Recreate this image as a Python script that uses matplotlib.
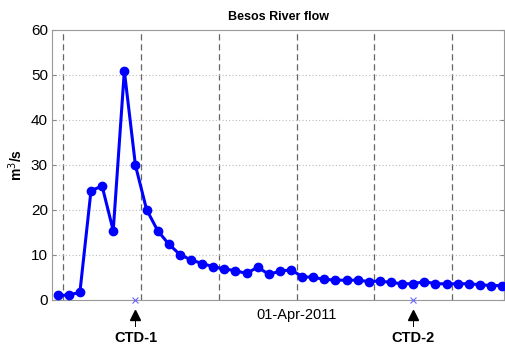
import numpy as np
import pandas as pd
import matplotlib
matplotlib.use("Agg")
import matplotlib.pyplot as plt

plt.rcParams['font.family'] = ['Liberation Sans', 'DejaVu Sans']

# daily flow (m3/s), daily values at noon from 10-Mar-2011
start = '2011-03-10 12:00'
flow = [1.0, 1.1, 1.7, 24.3, 25.3, 15.4, 50.9, 29.9, 20.1, 15.4,
        12.4, 10.1, 8.9, 8.1, 7.4, 6.9, 6.5, 5.9, 7.3, 5.7,
        6.4, 6.7, 5.2, 5.0, 4.6, 4.4, 4.4, 4.4, 4.1, 4.2,
        3.9, 3.6, 3.6, 4.1, 3.6, 3.6, 3.6, 3.6, 3.4, 3.2, 3.2]
dates = pd.date_range(start, periods=len(flow), freq='D')

ctd_labels = ['CTD-1', 'CTD-2']
ctd_dates = pd.to_datetime(['2011-03-17 12:00', '2011-04-11 12:00'])

grid_dates = pd.to_datetime(['2011-03-11', '2011-03-18', '2011-03-25',
                             '2011-04-01', '2011-04-08', '2011-04-15'])
tick_labels = ['', '', '', '01-Apr-2011', '', '']

fig = plt.figure(figsize=(5.06, 3.48), dpi=100)
ax = fig.add_axes([0.103, 0.138, 0.893, 0.776])

ax.plot(dates, flow, '-o', color='#0000ff', lw=2.2, ms=6, zorder=3)
ax.plot(ctd_dates, [0, 0], 'x', color='#6666ff', ms=4, mew=0.8, zorder=4,
        clip_on=False)

ax.set_xlim(pd.Timestamp('2011-03-10 00:00'), pd.Timestamp('2011-04-19 16:00'))
ax.set_ylim(0, 60)
ax.set_yticks(np.arange(0, 61, 10))
ax.set_xticks(grid_dates)
ax.set_xticklabels(tick_labels)

ax.yaxis.grid(True, linestyle=(0, (1, 2)), color='#bbbbbb', lw=0.8)
for d in grid_dates:
    ax.axvline(d, color='#666666', lw=0.9, ls=(0, (5, 3)), zorder=1)

for s in ax.spines.values():
    s.set_color('#999999')
ax.tick_params(axis='y', direction='in', length=3, right=True, color='#888888',
               labelsize=11, pad=3)
ax.tick_params(axis='x', length=0, labelsize=10.5, pad=6)

ax.set_title('Besos River flow', fontsize=9, fontweight='bold', pad=7)
ax.set_ylabel('m$^3$/s', fontsize=10, fontweight='bold', labelpad=4)

for lab, d in zip(ctd_labels, ctd_dates):
    ax.plot([d, d], [-4.0, -5.7], color='black', lw=0.7, clip_on=False)
    ax.plot([d], [-3.3], marker='^', color='black', ms=7, clip_on=False)
    ax.text(d, -8.4, lab, ha='center', va='center', fontsize=10.5,
            fontweight='bold', clip_on=False)

fig.savefig('out.png', dpi=100)
